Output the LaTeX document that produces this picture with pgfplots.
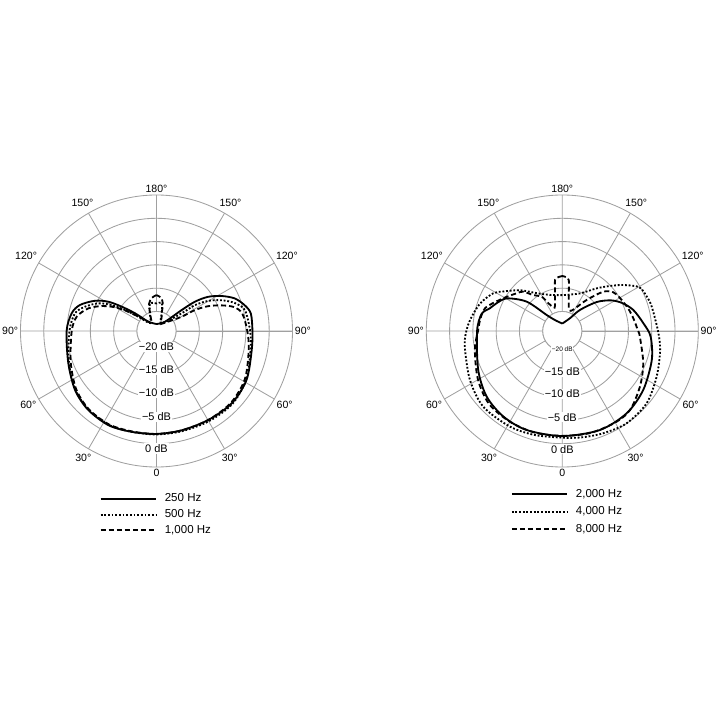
\documentclass[border=0pt]{standalone}
\usepackage{fontspec}
\setmainfont{Liberation Sans}
\usepackage{pgfplots}
\usepackage{pgfplotstable}
\pgfplotsset{compat=1.18}
\usepgfplotslibrary{polar}
\definecolor{gridgray}{RGB}{160,160,160}

% a = angle from the front (0 = bottom, 90 = right side, 180 = rear), db = level
% rows start and end at the rear (180) so the rear null stays sharp
\pgfplotstableread{
a db
180 -22.7
221.4 -21.5
230.5 -18.2
235 -15.1
238.7 -12.1
243.8 -9.5
251.2 -6.85
258.2 -5.6
270 -4.9
290 -4.05
306 -2.6
319 -1.8
333 -1.5
346 -1.9
360 -2.1
374.3 -2.2
390.2 -2.1
406.1 -1.8
421.5 -2.2
438.7 -3.35
450 -3.6
460.5 -3.6
466.4 -4.5
472.6 -6.0
478.2 -8.3
483.5 -10.9
487.3 -13.8
489.8 -17.2
497.6 -21.5
540 -22.7
}\lowA
\pgfplotstableread{
a db
180 -18.3
193.2 -18.1
200.2 -20.1
219 -22.0
231.8 -19.2
236.3 -16.1
239.9 -13.1
244.6 -10.35
251.2 -8.0
257.7 -6.3
270 -5.5
290 -4.2
306 -2.7
319 -1.9
333 -1.6
346 -1.9
360 -2.0
374.3 -2.0
390.2 -1.8
406.1 -1.6
421.5 -2.3
438.7 -3.6
450 -4.1
463.3 -4.7
469.8 -6.4
475.4 -8.8
480.3 -11.4
484 -14.3
485.1 -17.6
506 -22.2
523.6 -20.2
529.4 -18.1
540 -18.3
}\lowB
\pgfplotstableread{
a db
180 -16.5
188 -17.0
195 -18.1
200 -20.1
205 -21.5
213 -22.2
229.4 -20.0
235.6 -16.9
240.3 -13.9
245.5 -11.3
251.6 -8.8
259.8 -6.8
270 -6.0
290 -4.6
306 -2.9
319 -2.0
333 -1.7
346 -2.0
360 -2.1
374.3 -2.2
390.2 -2.1
406.1 -2.0
421.5 -2.6
438.7 -4.0
450 -4.7
461.5 -5.4
467.2 -6.8
471.7 -9.3
475.8 -12.0
478.6 -14.8
479.6 -18.0
499 -22.0
510 -22.3
520 -21.0
524 -20.2
526 -18.6
531 -17.1
540 -16.5
}\lowC
\pgfplotstableread{
a db
180 -22.6
213.6 -21.4
224.3 -19.4
230.5 -14.3
239.5 -10.4
247 -8.9
252.6 -7.9
258 -6.5
270 -5.9
294.9 -4.3
311 -2.7
325.5 -1.9
340.2 -1.6
360 -1.65
380.8 -1.46
398 -1.77
413.9 -2.7
432 -4.0
446.4 -5.2
455.4 -6.7
466.5 -8.3
475 -10.0
482 -11.8
490 -14.5
500 -18.3
509 -21.0
540 -22.6
}\highA
\pgfplotstableread{
a db
180 -16.5
199 -16.0
214 -14.4
226 -11.6
236 -9.0
241.4 -7.3
251.4 -5.6
262 -4.4
270 -3.6
279 -3.0
297.9 -1.76
313.8 -0.7
331.3 -0.8
345 -1.1
360 -1.3
370 -1.0
381.8 -0.55
394.9 -0.05
409.4 -0.35
424.2 -1.7
439 -2.8
450 -3.65
465.2 -4.3
472 -4.6
479.7 -5.2
487 -7.8
493 -10.0
501 -12.4
515 -15.3
540 -16.5
}\highB
\pgfplotstableread{
a db
180 -12.4
184 -12.6
188 -13.1
190.5 -15.6
196.3 -18.6
200.3 -18.8
206.8 -17.5
211 -15.6
218.9 -14.3
224.8 -12.3
230.4 -11.5
241 -9.7
253.6 -6.9
264.6 -6.3
270 -6.1
282 -5.0
300 -3.3
315 -2.0
330 -1.7
345 -1.6
360 -1.7
375 -1.5
390 -1.5
400.6 -1.85
414.4 -3.7
428.3 -5.5
445.8 -7.5
450.8 -8.0
460.1 -8.7
468 -9.2
475.7 -9.7
481 -10.0
487.2 -10.45
493.8 -12.0
501.8 -15.7
510 -18.5
517 -19.5
524 -19.1
530 -16.2
532.7 -13.2
536 -12.6
540 -12.4
}\highC

\pgfplotsset{
  pattern axis/.style={
    scale only axis, width=6.8cm, height=6.8cm, anchor=center,
    xmin=0, xmax=360, ymin=0, ymax=29.2,
    xtick={0,30,...,330},
    xticklabels={90°,120°,150°,180°,150°,120°,90°,60°,30°,0,30°,60°},
    ytick={4.2,9.2,14.2,19.2,24.2},
    yticklabels={},
    grid=major,
    major grid style={gridgray, line width=0.6pt},
    axis line style={gridgray, line width=0.6pt},
    tick style={draw=none},
    xticklabel style={font=\fontsize{7.5}{9}\selectfont, inner sep=1.5pt},
    clip=false,
    legend cell align=left,
    legend style={draw=none, fill=none, inner sep=0pt, anchor=north west,
      font=\fontsize{8.2}{9.8}\selectfont, row sep=0pt,
      /tikz/every odd column/.append style={column sep=0.12cm}},
    legend image code/.code={\draw[#1] (0cm,0cm) -- (1.39cm,0cm);},
  },
  solidline/.style={black, line width=1.3pt, line join=round, smooth, tension=0.5},
  dotline/.style={black, line width=1.3pt, dash pattern=on 1.3pt off 1.3pt, smooth, tension=0.5},
  dashline/.style={black, line width=1.3pt, dash pattern=on 3.6pt off 2.1pt, smooth, tension=0.5},
}

\begin{document}
\begin{tikzpicture}
\path[use as bounding box] (0,0) rectangle (18cm,18cm);

\begin{polaraxis}[pattern axis, at={(3.9125cm,9.725cm)},
  legend style={at={(axis description cs:0.2905,-0.087)}}]
\fill[white] (axis cs:0,0) circle[radius=0.489cm];
\draw[gridgray, line width=0.6pt] (axis cs:0,0) circle[radius=0.489cm];
\addplot[solidline] table[x expr={mod(\thisrow{a}+270,360)}, y expr={\thisrow{db}+24.2}] {\lowA};
\addlegendentry{250 Hz}
\addplot[dotline] table[x expr={mod(\thisrow{a}+270,360)}, y expr={\thisrow{db}+24.2}] {\lowB};
\addlegendentry{500 Hz}
\addplot[dashline] table[x expr={mod(\thisrow{a}+270,360)}, y expr={\thisrow{db}+24.2}] {\lowC};
\addlegendentry{1,000 Hz}
\begin{scope}[every node/.style={fill=white, inner sep=0.8pt, font=\fontsize{7.8}{9}\selectfont}]
\node at (axis cs:270,3.37) {−20 dB};
\node at (axis cs:270,8.37) {−15 dB};
\node at (axis cs:270,13.25) {−10 dB};
\node at (axis cs:270,18.4) {−5 dB};
\node at (axis cs:270,25.2) {0 dB};
\end{scope}
\end{polaraxis}

\begin{polaraxis}[pattern axis, at={(14.0575cm,9.725cm)},
  legend style={at={(axis description cs:0.310,-0.070)}, row sep=1.2pt}]
\fill[white] (axis cs:0,0) circle[radius=0.489cm];
\draw[gridgray, line width=0.6pt] (axis cs:0,0) circle[radius=0.489cm];
\addplot[solidline] table[x expr={mod(\thisrow{a}+270,360)}, y expr={\thisrow{db}+24.2}] {\highA};
\addlegendentry{2,000 Hz}
\addplot[dotline] table[x expr={mod(\thisrow{a}+270,360)}, y expr={\thisrow{db}+24.2}] {\highB};
\addlegendentry{4,000 Hz}
\addplot[dashline] table[x expr={mod(\thisrow{a}+270,360)}, y expr={\thisrow{db}+24.2}] {\highC};
\addlegendentry{8,000 Hz}
\node[fill=white, inner sep=0.5pt, font=\fontsize{4.6}{5}\selectfont] at (axis cs:270,3.93) {−20 dB};
\begin{scope}[every node/.style={fill=white, inner sep=0.8pt, font=\fontsize{7.8}{9}\selectfont}]
\node at (axis cs:270,8.74) {−15 dB};
\node at (axis cs:270,13.5) {−10 dB};
\node at (axis cs:270,18.5) {−5 dB};
\node at (axis cs:270,25.4) {0 dB};
\end{scope}
\end{polaraxis}
\end{tikzpicture}
\end{document}
